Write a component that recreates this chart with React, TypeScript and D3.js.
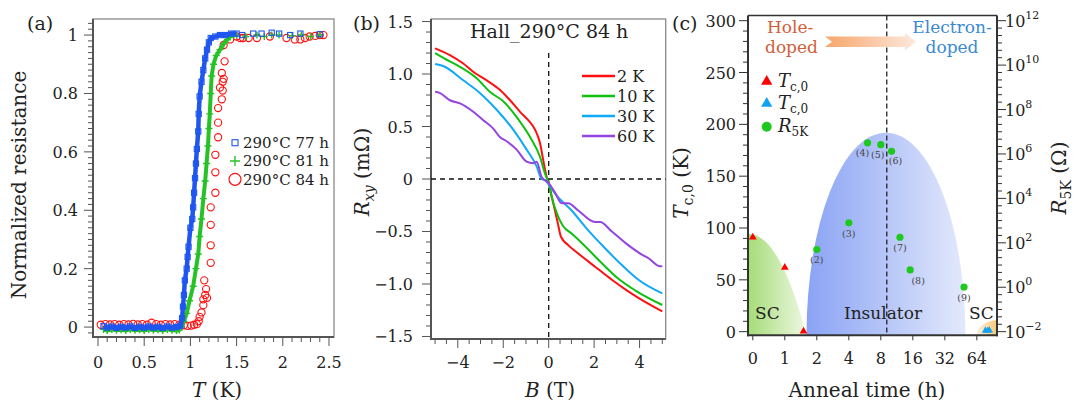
import React from "react";
import * as d3 from "d3";

const FONT = "'DejaVu Serif', serif";

// ---------- (a) normalized resistance vs T ----------
const aXTicks = [0, 0.5, 1, 1.5, 2, 2.5];
const aXLabels = ["0", "0.5", "1", "1.5", "2", "2.5"];
const aYTicks = [0, 0.2, 0.4, 0.6, 0.8, 1];
const aYLabels = ["0", "0.2", "0.4", "0.6", "0.8", "1"];
const aLegend = ["290°C 77 h", "290°C 81 h", "290°C 84 h"];

const s77: number[][] = [
  [0.06, 0.003], [0.1, -0.002], [0.15, 0.002], [0.2, -0.003], [0.25, 0.001], [0.3, -0.002],
  [0.35, 0.002], [0.4, -0.003], [0.45, 0.001], [0.5, -0.002], [0.55, 0.002], [0.6, -0.002],
  [0.65, 0.001], [0.7, -0.003], [0.75, 0.002], [0.8, -0.002], [0.85, 0.0], [0.89, 0.004],
  [0.91, 0.03], [0.92, 0.07], [0.93, 0.11], [0.94, 0.16], [0.96, 0.2], [0.97, 0.24],
  [0.98, 0.275], [1.0, 0.34], [1.02, 0.37], [1.03, 0.41], [1.04, 0.46], [1.05, 0.51],
  [1.06, 0.56], [1.07, 0.61], [1.085, 0.67], [1.09, 0.73], [1.1, 0.79], [1.12, 0.84],
  [1.14, 0.88], [1.16, 0.92], [1.18, 0.95], [1.2, 0.975], [1.22, 0.99], [1.27, 0.995],
  [1.32, 1.0], [1.38, 1.0], [1.44, 1.005], [1.5, 1.005],
  [1.56, 1.0], [1.68, 1.005], [1.77, 1.005], [1.88, 1.008], [1.96, 1.005], [2.08, 1.0],
  [2.19, 1.005], [2.4, 1.003],
];
const s81: number[][] = [
  [0.06, -0.008], [0.1, -0.012], [0.15, -0.008], [0.2, -0.011], [0.25, -0.009], [0.3, -0.012],
  [0.35, -0.008], [0.4, -0.011], [0.45, -0.009], [0.5, -0.012], [0.55, -0.008], [0.6, -0.011],
  [0.65, -0.009], [0.7, -0.012], [0.75, -0.008], [0.8, -0.011], [0.85, -0.012], [0.88, -0.01],
  [0.9, 0.0], [0.93, 0.02], [0.96, 0.047], [0.99, 0.09], [1.03, 0.14], [1.06, 0.2],
  [1.085, 0.25], [1.1, 0.31], [1.12, 0.37], [1.14, 0.44], [1.16, 0.5], [1.175, 0.56],
  [1.19, 0.62], [1.2, 0.68], [1.21, 0.73], [1.22, 0.8], [1.23, 0.86], [1.25, 0.9],
  [1.28, 0.93], [1.32, 0.95], [1.36, 0.97], [1.4, 0.985], [1.43, 0.994], [1.47, 1.0], [1.5, 1.0],
  [1.6, 0.995], [1.72, 1.0], [1.8, 0.995], [1.88, 1.0], [1.96, 1.0], [2.1, 0.998],
  [2.2, 1.0], [2.3, 0.995], [2.4, 1.0],
];
const s84: number[][] = [
  [0.03, 0.008], [0.08, 0.01], [0.13, 0.009], [0.18, 0.01], [0.23, 0.008], [0.28, 0.01],
  [0.33, 0.009], [0.38, 0.011], [0.43, 0.009], [0.48, 0.01], [0.53, 0.008], [0.58, 0.015],
  [0.63, 0.01], [0.68, 0.008], [0.73, 0.01], [0.78, 0.009], [0.83, 0.01], [0.88, 0.008],
  [0.93, 0.006], [0.97, 0.004], [1.01, 0.005], [1.04, 0.008], [1.07, 0.01], [1.09, 0.02],
  [1.1, 0.035], [1.12, 0.05], [1.14, 0.075], [1.14, 0.095], [1.16, 0.11], [1.18, 0.1],
  [1.17, 0.13], [1.15, 0.16], [1.22, 0.22], [1.22, 0.28], [1.22, 0.35], [1.22, 0.41],
  [1.27, 0.46], [1.27, 0.53], [1.27, 0.59], [1.3, 0.65], [1.3, 0.7], [1.3, 0.75],
  [1.34, 0.78], [1.35, 0.81], [1.32, 0.82], [1.35, 0.84], [1.36, 0.85], [1.34, 0.87],
  [1.37, 0.91], [1.36, 0.966], [1.43, 0.985], [1.5, 0.995], [1.54, 0.99], [1.57, 0.99],
  [1.63, 0.99], [1.72, 0.99], [1.86, 0.995], [2.04, 0.99], [2.13, 0.985], [2.19, 0.985],
  [2.24, 0.99], [2.29, 0.995], [2.35, 0.997], [2.4, 1.0], [2.44, 1.0],
];

// ---------- (b) Hall resistance ----------
const bXTicks = [-4, -2, 0, 2, 4];
const bXLabels = ["−4", "−2", "0", "2", "4"];
const bYTicks = [-1.5, -1, -0.5, 0, 0.5, 1, 1.5];
const bYLabels = ["−1.5", "−1.0", "−0.5", "0", "0.5", "1.0", "1.5"];
const bNames = ["2 K", "10 K", "30 K", "60 K"];

const hall2K: number[][] = [
  [-5, 1.245], [-4.35, 1.18], [-3.76, 1.1], [-3.25, 1.01], [-2.73, 0.94], [-2.15, 0.85],
  [-1.7, 0.75], [-1.26, 0.64], [-0.9, 0.56], [-0.6, 0.47], [-0.38, 0.34], [-0.24, 0.18],
  [-0.09, 0.02], [0, -0.04], [0.2, -0.23], [0.4, -0.42], [0.54, -0.55], [0.86, -0.63],
  [1.3, -0.71], [2.04, -0.835], [2.78, -0.96], [3.5, -1.07], [4.24, -1.17], [5, -1.26],
];
const hall10K: number[][] = [
  [-5, 1.2], [-4.35, 1.12], [-4.05, 1.086], [-3.17, 0.96], [-2.59, 0.83], [-2, 0.74],
  [-1.41, 0.59], [-0.82, 0.4], [-0.38, 0.21], [-0.16, 0.05], [0, -0.04], [0.13, -0.17],
  [0.42, -0.36], [0.64, -0.45], [1.01, -0.52], [1.6, -0.64], [2.33, -0.8], [3.07, -0.95],
  [3.8, -1.06], [5, -1.2],
];
const hall30K: number[][] = [
  [-5, 1.095], [-4.64, 1.076], [-3.76, 0.94], [-3.03, 0.82], [-2.29, 0.66], [-1.56, 0.47],
  [-0.97, 0.28], [-0.53, 0.12], [-0.31, 0.0], [-0.16, -0.01], [0, -0.05], [0.28, -0.14],
  [1.01, -0.3], [1.74, -0.49], [2.48, -0.66], [3.22, -0.82], [3.95, -0.96], [5, -1.09],
];
const hall60K: number[][] = [
  [-5, 0.83], [-4.8, 0.82], [-4.35, 0.75], [-3.9, 0.72], [-3.32, 0.64], [-2.88, 0.56],
  [-2.44, 0.48], [-2.15, 0.4], [-1.85, 0.36], [-1.41, 0.28], [-0.97, 0.165], [-0.68, 0.15],
  [-0.53, 0.165], [-0.31, 0.02], [0, -0.04], [0.28, -0.13], [0.57, -0.23], [0.86, -0.23],
  [1.3, -0.3], [2.04, -0.41], [2.26, -0.41], [2.78, -0.5], [3.5, -0.63], [4.1, -0.72],
  [4.39, -0.755], [4.9, -0.83], [5, -0.83],
];

// ---------- (c) phase diagram ----------
const cHours = [0, 1, 2, 4, 8, 16, 32, 64];
const cLeftTicks = [0, 50, 100, 150, 200, 250, 300];
const cRightExp = [-2, 0, 2, 4, 6, 8, 10, 12];
const tcHoleHours = [0, 1, 1.5];
const tcHoleK = [91, 62, 0.5];
const tcElecHours = [77, 81, 84];
const tcElecK = [0.9, 1.0, 1.2];
const r5kHours = [2, 4, 6, 8, 10.1, 12.1, 15.1, 48.5];
const r5kLog10 = [1.7, 2.9, 6.5, 6.42, 6.12, 2.25, 0.78, 0.01];
const r5kTags = ["(2)", "(3)", "(4)", "(5)", "(6)", "(7)", "(8)", "(9)"];
const boundaryHours = 9.1;
const holeScDome = { end: 1.6, peak: 95 };
const insulatorDome = { start: 1.6, end: 50, peak: 192 };
const elecScDome = { start: 64, peak: 11 };

const tagOffset = [[0, 14], [0, 14], [-5, 13], [-3, 13], [4, 13], [0, 14], [8, 14], [0, 14]];

const range = (a: number, b: number, step: number) =>
  d3.range(Math.round(a / step), Math.round(b / step) + 1).map((i) => +(i * step).toFixed(6));

function Frame({ l, r, t, b }: { l: number; r: number; t: number; b: number }) {
  return (
    <g>
      <rect x={l} y={t} width={r - l} height={b - t} fill="none" stroke="#8a8a8a" strokeWidth={1.3} />
      <line x1={l} x2={l} y1={t} y2={b + 1} stroke="#555" strokeWidth={2} />
      <line x1={l - 1} x2={r} y1={b} y2={b} stroke="#555" strokeWidth={2} />
    </g>
  );
}

function PanelA() {
  const x = d3.scaleLinear().domain([-0.054, 2.554]).range([93, 334]);
  const y = d3.scaleLinear().domain([-0.034, 1.055]).range([337, 19]);
  const [l, r] = x.range();
  const [b, t] = y.range();
  const line = d3.line<number[]>().x((d) => x(d[0])).y((d) => y(d[1]));
  const blue = "#1f56ef", green = "#26c226", red = "#ff1010";
  const bandEnd = 1.5;
  const plus = (cx: number, cy: number, k: string, s = 3.5) => (
    <path key={k} d={`M${cx - s},${cy}H${cx + s}M${cx},${cy - s}V${cy + s}`} stroke={green} strokeWidth={1.4} />
  );
  const sq = (cx: number, cy: number, k: string, s = 2.6) => (
    <rect key={k} x={cx - s} y={cy - s} width={2 * s} height={2 * s} fill="none" stroke={blue} strokeWidth={1.1} />
  );
  return (
    <g>
      <Frame l={l} r={r} t={t} b={b} />
      {range(-0.02, 1.04, 0.02).map((v) => {
        const major = aYTicks.some((m) => Math.abs(m - v) < 1e-6);
        return <line key={v} x1={l - (major ? 9 : 5)} x2={l} y1={y(v)} y2={y(v)} stroke="#555" strokeWidth={1} />;
      })}
      {range(0, 2.5, 0.1).map((v) => {
        const major = aXTicks.some((m) => Math.abs(m - v) < 1e-6);
        return <line key={v} x1={x(v)} x2={x(v)} y1={b} y2={b + (major ? 9 : 5)} stroke="#555" strokeWidth={1} />;
      })}
      {aYTicks.map((v, i) => (
        <text key={v} x={78} y={y(v) + 6} textAnchor="end" fontSize={16} fill="#222">{aYLabels[i]}</text>
      ))}
      {aXTicks.map((v, i) => (
        <text key={v} x={x(v)} y={368} textAnchor="middle" fontSize={16} fill="#222">{aXLabels[i]}</text>
      ))}
      {s84.map((d, i) => (
        <circle key={i} cx={x(d[0])} cy={y(d[1])} r={3.6} fill="none" stroke={red} strokeWidth={1.1} />
      ))}
      <path d={line(s81.filter((d) => d[0] <= bandEnd)) || ""} fill="none" stroke={green} strokeWidth={4} />
      {s81.map((d, i) => plus(x(d[0]), y(d[1]), "g" + i))}
      <path d={line(s77.filter((d) => d[0] <= bandEnd)) || ""} fill="none" stroke={blue} strokeWidth={4.5} />
      {s77.map((d, i) => sq(x(d[0]), y(d[1]), "b" + i))}
      {sq(235, 142.7, "lb", 3)}
      {plus(235, 161, "lg", 5)}
      <circle cx={235} cy={179.3} r={6} fill="none" stroke={red} strokeWidth={1.2} />
      {aLegend.map((s, i) => (
        <text key={s} x={243} y={148 + i * 18.3} fontSize={15} fill="#222">{s}</text>
      ))}
      <text x={27} y={30} fontSize={19} fill="#222">(a)</text>
      <text transform="translate(26,185) rotate(-90)" textAnchor="middle" fontSize={20} fill="#222">
        Normalized resistance
      </text>
      <text x={217} y={397} textAnchor="middle" fontSize={20} fill="#222">
        <tspan fontStyle="italic">T</tspan> (K)
      </text>
    </g>
  );
}

function PanelB() {
  const x = d3.scaleLinear().domain([-5.18, 5.15]).range([431, 665.7]);
  const y = d3.scaleLinear().domain([-1.524, 1.524]).range([339, 19]);
  const [l, r] = x.range();
  const [b, t] = y.range();
  const line = d3.line<number[]>().x((d) => x(d[0])).y((d) => y(d[1])).curve(d3.curveMonotoneX);
  const series = [hall2K, hall10K, hall30K, hall60K];
  const colors = ["#ff1010", "#10c010", "#10a8f8", "#9444e0"];
  return (
    <g>
      <Frame l={l} r={r} t={t} b={b} />
      {range(-1.5, 1.5, 0.1).map((v) => {
        const major = bYTicks.some((m) => Math.abs(m - v) < 1e-6);
        return <line key={v} x1={l - (major ? 9 : 5)} x2={l} y1={y(v)} y2={y(v)} stroke="#555" strokeWidth={1} />;
      })}
      {range(-5, 5, 0.5).map((v) => {
        const major = bXTicks.some((m) => Math.abs(m - v) < 1e-6);
        return <line key={v} x1={x(v)} x2={x(v)} y1={b} y2={b + (major ? 9 : 5)} stroke="#555" strokeWidth={1} />;
      })}
      {bYTicks.map((v, i) => (
        <text key={v} x={413} y={y(v) + 6} textAnchor="end" fontSize={16} fill="#222">{bYLabels[i]}</text>
      ))}
      {bXTicks.map((v, i) => (
        <text key={v} x={x(v)} y={368} textAnchor="middle" fontSize={16} fill="#222">{bXLabels[i]}</text>
      ))}
      <line x1={l} x2={r} y1={y(0)} y2={y(0)} stroke="#111" strokeWidth={1.3} strokeDasharray="5,4" />
      <line x1={x(0)} x2={x(0)} y1={53} y2={b} stroke="#111" strokeWidth={1.3} strokeDasharray="5,4" />
      {series.map((s, i) => (
        <path key={i} d={line(s) || ""} fill="none" stroke={colors[i]} strokeWidth={2} />
      ))}
      {bNames.map((n, i) => (
        <g key={n}>
          <line x1={582} x2={615} y1={76 + i * 20} y2={76 + i * 20} stroke={colors[i]} strokeWidth={2.5} />
          <text x={617} y={82 + i * 20} fontSize={16} fill="#222">{n}</text>
        </g>
      ))}
      <text x={470} y={38} fontSize={19} fill="#222">Hall_290°C 84 h</text>
      <text x={353} y={30} fontSize={19} fill="#222">(b)</text>
      <text transform="translate(369,172) rotate(-90)" textAnchor="middle" fontSize={20} fill="#222">
        <tspan fontStyle="italic">R</tspan>
        <tspan fontStyle="italic" fontSize={14} dy={5}>xy</tspan>
        <tspan dy={-5}> (mΩ)</tspan>
      </text>
      <text x={550} y={397} textAnchor="middle" fontSize={20} fill="#222">
        <tspan fontStyle="italic">B</tspan> (T)
      </text>
    </g>
  );
}

function PanelC() {
  const xp = d3.scaleLinear().domain([-0.15, 7.63]).range([748, 997]);
  const pos = (h: number) => (h <= 1 ? xp(h) : xp(Math.log2(h) + 1));
  const yL = d3.scaleLinear().domain([-3.5, 305]).range([335.3, 15.5]);
  const yR = d3.scaleLog().domain([1e-2, 1e12]).range([yL(0), yL(300)]);
  const [l, r] = xp.range();
  const [b, t] = yL.range();
  const tri = d3.symbol(d3.symbolTriangle);
  const ink = "#222";

  const hx1 = pos(holeScDome.end), hTop = yL(holeScDome.peak);
  const holePath = `M${l},${b}L${l},${yL(holeScDome.peak * (1 - ((xp.invert(l)) / (Math.log2(holeScDome.end) + 1)) ** 2))}` +
    `Q${(xp(0) + hx1) / 2},${hTop} ${hx1},${b}Z`;
  const ix0 = pos(insulatorDome.start), ix1 = pos(insulatorDome.end);
  const insPath = `M${ix0},${b}A${(ix1 - ix0) / 2},${b - yL(insulatorDome.peak)} 0 0 1 ${ix1},${b}Z`;
  const ex0 = pos(elecScDome.start), eTop = yL(elecScDome.peak);
  const elecPath = `M${ex0},${b}A${r - ex0},${b - eTop} 0 0 1 ${r},${eTop}L${r},${b}Z`;

  return (
    <g>
      <defs>
        <linearGradient id="gHole" x1="0" x2="1" y1="0" y2="0">
          <stop offset="0" stopColor="#a6dc78" />
          <stop offset="1" stopColor="#eef8e4" />
        </linearGradient>
        <linearGradient id="gIns" x1="0" x2="1" y1="0" y2="0">
          <stop offset="0" stopColor="#8aa3f4" />
          <stop offset="1" stopColor="#e3e9fc" />
        </linearGradient>
        <linearGradient id="gElec" x1="0" x2="1" y1="0" y2="0">
          <stop offset="0" stopColor="#fdf0dc" />
          <stop offset="1" stopColor="#f9c877" />
        </linearGradient>
        <linearGradient id="gArrow" x1="0" x2="1" y1="0" y2="0">
          <stop offset="0" stopColor="#f7a56a" />
          <stop offset="1" stopColor="#fde9de" />
        </linearGradient>
      </defs>
      <path d={holePath} fill="url(#gHole)" />
      <path d={insPath} fill="url(#gIns)" />
      <path d={elecPath} fill="url(#gElec)" />

      <line x1={l} x2={r} y1={t} y2={t} stroke="#333" strokeWidth={1.3} />
      <line x1={l} x2={l} y1={t} y2={b + 1} stroke="#333" strokeWidth={2} />
      <line x1={r} x2={r} y1={t} y2={b + 1} stroke="#333" strokeWidth={2} />
      <line x1={l - 1} x2={r + 1} y1={b} y2={b} stroke="#333" strokeWidth={2} />

      {range(0, 300, 10).map((v) => (
        <line key={v} x1={l - (v % 50 === 0 ? 9 : 5)} x2={l} y1={yL(v)} y2={yL(v)} stroke="#333" strokeWidth={1} />
      ))}
      {cLeftTicks.map((v) => (
        <text key={v} x={736} y={yL(v) + 6} textAnchor="end" fontSize={16} fill={ink}>{v}</text>
      ))}
      {d3.range(0, 43).map((k) => {
        const e = -2 + k / 3;
        const major = k % 6 === 0;
        return <line key={k} x1={r} x2={r + (major ? 9 : 5)} y1={yR(10 ** e)} y2={yR(10 ** e)} stroke="#333" strokeWidth={1} />;
      })}
      {cRightExp.map((e) => (
        <text key={e} x={1005} y={yR(10 ** e) + 6} fontSize={16} fill={ink}>
          10<tspan fontSize={11} dy={-8}>{e < 0 ? "−" + -e : e}</tspan>
        </text>
      ))}
      {cHours.map((h) => (
        <g key={h}>
          <line x1={pos(h)} x2={pos(h)} y1={b} y2={b + 5} stroke="#333" strokeWidth={1} />
          <text x={pos(h)} y={364} textAnchor="middle" fontSize={16} fill={ink}>{h}</text>
        </g>
      ))}

      <line x1={pos(boundaryHours)} x2={pos(boundaryHours)} y1={t} y2={b} stroke="#222" strokeWidth={1.3} strokeDasharray="5,3" />

      <text x={755} y={319} fontSize={17} fill={ink}>SC</text>
      <text x={883} y={319} textAnchor="middle" fontSize={17} fill={ink}>Insulator</text>
      <text x={969} y={319} fontSize={17} fill={ink}>SC</text>

      {tcHoleHours.map((h, i) => (
        <path key={h} d={tri.size(26)() || ""} transform={`translate(${pos(h)},${yL(tcHoleK[i])})`} fill="#f00" />
      ))}
      {tcElecHours.map((h, i) => (
        <path key={h} d={tri.size(22)() || ""} transform={`translate(${pos(h)},${yL(tcElecK[i])})`} fill="#12a2f2" />
      ))}
      {r5kHours.map((h, i) => (
        <g key={h}>
          <circle cx={pos(h)} cy={yR(10 ** r5kLog10[i])} r={3.6} fill="#1ec81e" />
          <text x={pos(h) + tagOffset[i][0]} y={yR(10 ** r5kLog10[i]) + tagOffset[i][1]} textAnchor="middle" fontSize={9.5} fill="#444">
            {r5kTags[i]}
          </text>
        </g>
      ))}

      <path d={tri.size(55)() || ""} transform="translate(766.7,81.5)" fill="#f00" />
      <path d={tri.size(55)() || ""} transform="translate(766.7,103.5)" fill="#12a2f2" />
      <circle cx={766.7} cy={126.7} r={5} fill="#1ec81e" />
      {["c,0", "c,0"].map((s, i) => (
        <text key={i} x={778} y={87 + i * 22} fontSize={18} fill={ink}>
          <tspan fontStyle="italic">T</tspan>
          <tspan fontSize={12} dy={4}>{s}</tspan>
        </text>
      ))}
      <text x={778} y={132} fontSize={18} fill={ink}>
        <tspan fontStyle="italic">R</tspan>
        <tspan fontSize={12} dy={4}>5K</tspan>
      </text>

      <text x={767} y={33} fontSize={17} fill="#d0603a">Hole-</text>
      <text x={765} y={53} fontSize={17} fill="#d0603a">doped</text>
      <polygon points="825,36.5 905,36.5 905,33 916,41.7 905,50.5 905,47 825,47 832,41.7" fill="url(#gArrow)" />
      <text x={952} y={33} textAnchor="middle" fontSize={17} fill="#3a8ad0">Electron-</text>
      <text x={952} y={53} textAnchor="middle" fontSize={17} fill="#3a8ad0">doped</text>

      <text x={672} y={30} fontSize={19} fill={ink}>(c)</text>
      <text x={867} y={397} textAnchor="middle" fontSize={20} fill={ink}>Anneal time (h)</text>
      <text transform="translate(688,183) rotate(-90)" textAnchor="middle" fontSize={20} fill={ink}>
        <tspan fontStyle="italic">T</tspan>
        <tspan fontSize={14} dy={5}>c,0</tspan>
        <tspan dy={-5}> (K)</tspan>
      </text>
      <text transform="translate(1066,178) rotate(-90)" textAnchor="middle" fontSize={20} fill={ink}>
        <tspan fontStyle="italic">R</tspan>
        <tspan fontSize={14} dy={5}>5K</tspan>
        <tspan dy={-5}> (Ω)</tspan>
      </text>
    </g>
  );
}

export default function App() {
  return (
    <svg
      width={1075}
      height={405}
      fontFamily={FONT}
      style={{ position: "fixed", left: 0, top: 0, background: "#fff", display: "block" }}
    >
      <rect width={1075} height={405} fill="#fff" />
      <PanelA />
      <PanelB />
      <PanelC />
    </svg>
  );
}
